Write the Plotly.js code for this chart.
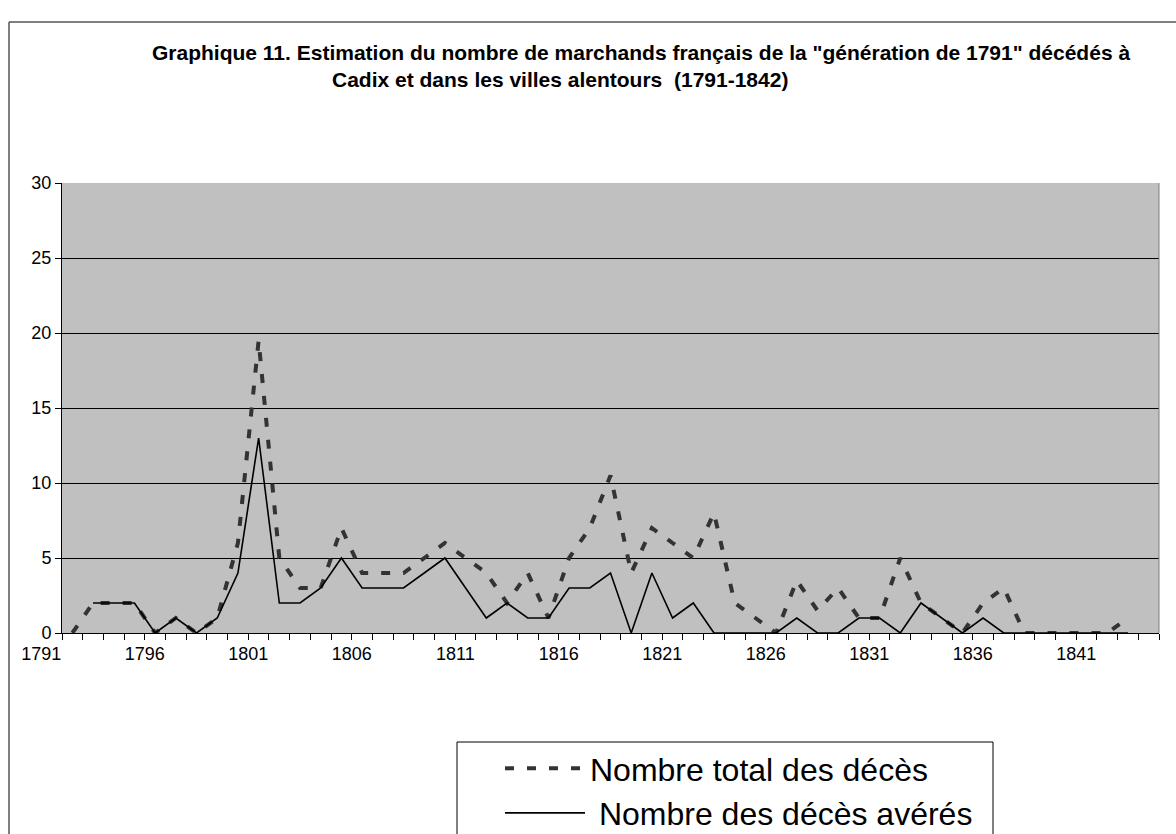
<!DOCTYPE html>
<html><head><meta charset="utf-8">
<script src="https://cdn.plot.ly/plotly-3.0.1.min.js"></script>
<style>html,body{margin:0;padding:0;background:#fff;overflow:hidden}</style>
</head><body><div id="chart" style="width:1176px;height:834px"></div>
<script>
const years = [1791,1792,1793,1794,1795,1796,1797,1798,1799,1800,
  1801,1802,1803,1804,1805,1806,1807,1808,1809,1810,
  1811,1812,1813,1814,1815,1816,1817,1818,1819,1820,
  1821,1822,1823,1824,1825,1826,1827,1828,1829,1830,
  1831,1832,1833,1834,1835,1836,1837,1838,1839,1840,
  1841,1842];
const totalDeaths = [0,2,2,2,0,1,0,1,6,19.5,
  5,3,3,7,4,4,4,5,6,5,
  4,2,4,1,5,7,10.5,4,7,6,
  5,8,2,1,0,3.5,1.5,3,1,1,
  5,2,1,0,2,3,0,0,0,0,
  0,1];
const confirmedDeaths = [null,2,2,2,0,1,0,1,4,13,
  2,2,3,5,3,3,3,4,5,3,
  1,2,1,1,3,3,4,0,4,1,
  2,0,0,0,0,1,0,0,1,1,
  0,2,1,0,1,0,0,0,0,0,
  0,0];
const tickYears = [1791,1796,1801,1806,1811,1816,1821,1826,1831,1836,1841];
const tickLabels = ["1791","1796","1801","1806","1811","1816","1821","1826","1831","1836","1841"];
const seriesNames = ["Nombre total des décès", "\u00a0Nombre des décès avérés"];
const titleLine1 = 'Graphique 11. Estimation du nombre de marchands français de la "génération de 1791" décédés à';
const titleLine2 = 'Cadix et dans les villes alentours  (1791-1842)';

const FONT = 'Liberation Sans, Arial, sans-serif';
const W = 1176, H = 834;
const L = 62, R = 17, T = 183, B = 201;
const pw = W - L - R, ph = H - T - B;
const px = v => (v - L) / pw;      // pixel -> paper x
const py = v => (H - B - v) / ph;  // pixel -> paper y

const traces = [
  {x: years, y: totalDeaths, name: seriesNames[0], type: 'scatter', mode: 'lines',
   line: {color: '#333333', width: 4, dash: '9px,13px'}},
  {x: years, y: confirmedDeaths, name: seriesNames[1], type: 'scatter', mode: 'lines',
   line: {color: '#000000', width: 1.6}}
];

const layout = {
  width: W, height: H,
  margin: {l: L, r: R, t: T, b: B, autoexpand: false},
  paper_bgcolor: '#ffffff',
  plot_bgcolor: '#c0c0c0',
  font: {family: FONT, color: '#000', size: 18},
  showlegend: true,
  xaxis: {
    range: [1790.5, 1843.5], fixedrange: true,
    tickmode: 'array', tickvals: tickYears, ticktext: tickLabels,
    ticks: '', ticklabelshift: -31, ticklabelstandoff: 4,
    showgrid: false, zeroline: false,
    showline: true, linecolor: '#000', linewidth: 1,
    tickfont: {size: 18, family: FONT},
    minor: {tickmode: 'linear', tick0: 1790.5, dtick: 1, ticks: 'outside',
            ticklen: 6, tickwidth: 1, tickcolor: '#000', showgrid: false}
  },
  yaxis: {
    range: [0, 30], fixedrange: true, dtick: 5, tick0: 0,
    ticks: 'outside', ticklen: 6, tickwidth: 1, tickcolor: '#000',
    showgrid: true, gridcolor: '#000', gridwidth: 1,
    zeroline: false, showline: true, linecolor: '#000', linewidth: 1,
    tickfont: {size: 18, family: FONT}
  },
  legend: {
    x: px(500), y: py(741), xanchor: 'left', yanchor: 'top',
    bgcolor: 'rgba(0,0,0,0)', borderwidth: 0,
    font: {size: 32, family: FONT, color: '#000'},
    itemwidth: 80, tracegroupgap: 0
  },
  annotations: [
    {text: '<b>' + titleLine1 + '</b>', xref: 'paper', yref: 'paper',
     x: px(641), y: py(52), xanchor: 'center', yanchor: 'middle', showarrow: false,
     font: {size: 21, family: FONT, color: '#000'}},
    {text: '<b>' + titleLine2 + '</b>', xref: 'paper', yref: 'paper',
     x: px(560), y: py(80), xanchor: 'center', yanchor: 'middle', showarrow: false,
     font: {size: 21, family: FONT, color: '#000'}}
  ],
  shapes: [
    {type: 'line', xref: 'paper', yref: 'paper', x0: px(9), x1: px(1180), y0: py(22), y1: py(22),
     line: {color: '#555', width: 1.5}},
    {type: 'line', xref: 'paper', yref: 'paper', x0: px(9), x1: px(9), y0: py(22), y1: py(840),
     line: {color: '#555', width: 1.5}},
    {type: 'line', xref: 'x domain', yref: 'y domain', x0: 1, x1: 1, y0: 0, y1: 1,
     line: {color: '#808080', width: 1}},
    {type: 'rect', xref: 'paper', yref: 'paper', x0: px(457), x1: px(993), y0: py(742), y1: py(850),
     line: {color: '#000', width: 1}, fillcolor: 'rgba(0,0,0,0)'}
  ]
};

Plotly.newPlot('chart', traces, layout, {staticPlot: true, displayModeBar: false});
</script>
</body></html>
